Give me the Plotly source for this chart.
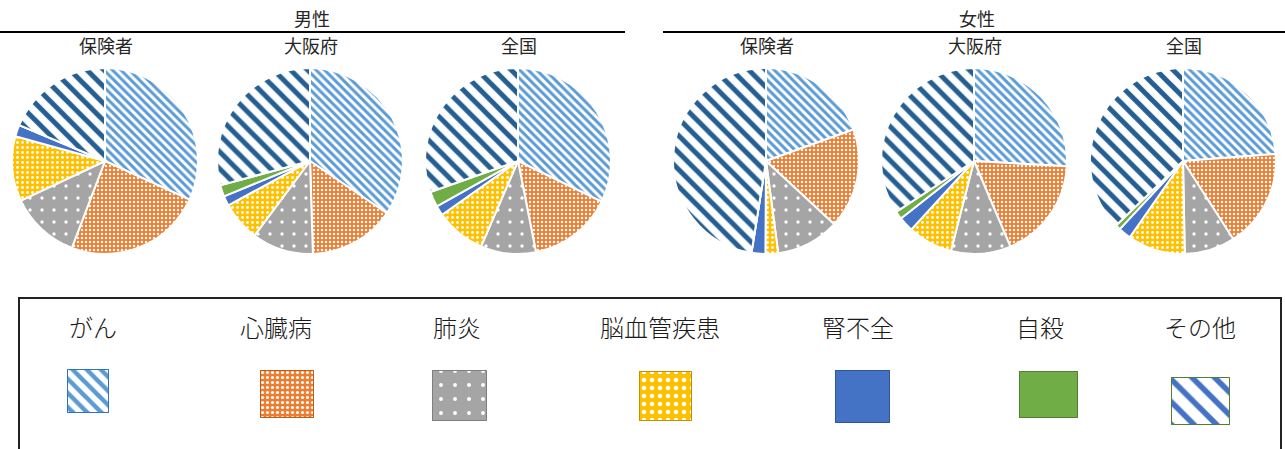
import plotly.graph_objects as go

# Causes of death (share of deaths, %), clockwise from 12 o'clock
causes = ["がん", "心臓病", "肺炎", "脳血管疾患", "腎不全", "自殺", "その他"]
groups = ["保険者", "大阪府", "全国"]

male_hoken = [31.8, 24.0, 12.2, 11.3, 2.0, 0.0, 18.7]
male_osaka = [34.5, 15.0, 10.7, 6.9, 1.7, 2.0, 29.2]
male_zenkoku = [32.2, 14.7, 9.6, 8.7, 1.7, 2.7, 30.4]
female_hoken = [19.5, 17.4, 11.0, 2.2, 2.4, 0.0, 47.5]
female_osaka = [25.9, 17.7, 10.4, 7.8, 2.6, 1.4, 34.2]
female_zenkoku = [23.8, 17.1, 8.8, 10.0, 2.2, 0.9, 37.2]

# Slice styling per cause
bg_colors = ["#FFFFFF", "#ED7D31", "#A5A5A5", "#FFC000", "#4472C4", "#70AD47", "#FFFFFF"]
fg_colors = ["#5B9BD5", "#FFFFFF", "#FFFFFF", "#FFFFFF", "#4472C4", "#70AD47", "#255E91"]
shapes_ = ["\\", ".", ".", ".", "", "", "\\"]
sizes_ = [6, 4, 12, 5, 8, 8, 12]
solid_ = [0.5, 0.3, 0.06, 0.25, 0.3, 0.3, 0.42]
outline = ["#2E75B6", "#C55A11", "#7F7F7F", "#BF9000", "#2F5597", "#507E32", "#507E32"]

W, H = 1285, 449
R = 93
pie_cx = [105, 310, 518, 766, 974, 1183]
pie_cy = 161
pie_data = [male_hoken, male_osaka, male_zenkoku, female_hoken, female_osaka, female_zenkoku]

fig = go.Figure()

for cx, vals in zip(pie_cx, pie_data):
    fig.add_trace(go.Pie(
        labels=causes, values=vals, sort=False, direction="clockwise", rotation=0,
        textinfo="none", hoverinfo="label+percent", showlegend=False,
        marker=dict(
            colors=fg_colors,
            line=dict(color="white", width=2),
            pattern=dict(shape=shapes_, fgcolor=fg_colors, bgcolor=bg_colors,
                         size=sizes_, solidity=solid_, fillmode="replace", fgopacity=1),
        ),
        domain=dict(x=[(cx - R) / W, (cx + R) / W],
                    y=[(H - pie_cy - R) / H, (H - pie_cy + R) / H]),
    ))

# Legend swatches (pixel layout on a hidden axis)
leg_cx = [88, 287, 460, 666, 863, 1049, 1201]
leg_top = [370, 371, 371, 372, 371, 372, 378]
leg_w = [41, 53, 54, 52, 54, 58, 58]
leg_h = [43, 47, 50, 49, 52, 46, 47]
leg_text_x = [93, 276, 457, 660, 858, 1040, 1200]

swatch_shapes = ["\\", ".", ".", ".", "", "", "\\"]
swatch_sizes = [10, 5, 14, 8, 8, 8, 16]
swatch_solid = [0.45, 0.3, 0.06, 0.25, 0.3, 0.3, 0.35]
swatch_fg = ["#5B9BD5", "#FFFFFF", "#FFFFFF", "#FFFFFF", "#4472C4", "#70AD47", "#4472C4"]

# base fill of each swatch
fig.add_trace(go.Bar(
    x=leg_cx, y=leg_h, base=leg_top, width=leg_w,
    marker=dict(color=bg_colors, line=dict(color=outline, width=1)),
    showlegend=False, hoverinfo="skip",
))
# pattern layer on top
fig.add_trace(go.Bar(
    x=leg_cx, y=leg_h, base=leg_top, width=leg_w,
    marker=dict(color=swatch_fg, line=dict(color=outline, width=1),
                pattern=dict(shape=swatch_shapes, size=swatch_sizes,
                             solidity=swatch_solid, fillmode="replace", fgopacity=1)),
    showlegend=False, hoverinfo="skip",
))

fig.update_xaxes(range=[0, W], visible=False, domain=[0, 1], fixedrange=True)
fig.update_yaxes(range=[H, 0], visible=False, domain=[0, 1], fixedrange=True)

font_jp = "Noto Sans CJK JP"
ann = []
ann.append(dict(x=312, y=18, text="男性", showarrow=False, font=dict(size=18, color="#262626", family=font_jp)))
ann.append(dict(x=977, y=18, text="女性", showarrow=False, font=dict(size=18, color="#262626", family=font_jp)))
for cx, g in zip(pie_cx, groups * 2):
    ann.append(dict(x=cx + 1, y=45, text=g, showarrow=False, font=dict(size=18, color="#262626", family=font_jp)))
for tx, c in zip(leg_text_x, causes):
    ann.append(dict(x=tx, y=326, text=c, showarrow=False,
                    font=dict(size=24, color="#1a1a1a", family=font_jp, weight=300)))
for a in ann:
    a.update(xref="x", yref="y")

shp = [
    dict(type="line", xref="x", yref="y", x0=0, x1=625, y0=32, y1=32, line=dict(color="black", width=2)),
    dict(type="line", xref="x", yref="y", x0=663, x1=1285, y0=32, y1=32, line=dict(color="black", width=2)),
    dict(type="rect", xref="x", yref="y", x0=19, x1=1281, y0=298, y1=470, line=dict(color="#222222", width=2)),
]

fig.update_layout(
    width=W, height=H, margin=dict(l=0, r=0, t=0, b=0),
    paper_bgcolor="white", plot_bgcolor="rgba(0,0,0,0)",
    annotations=ann, shapes=shp, bargap=0, barmode="overlay",
)

fig.write_html("out.html", config={"displayModeBar": False})
